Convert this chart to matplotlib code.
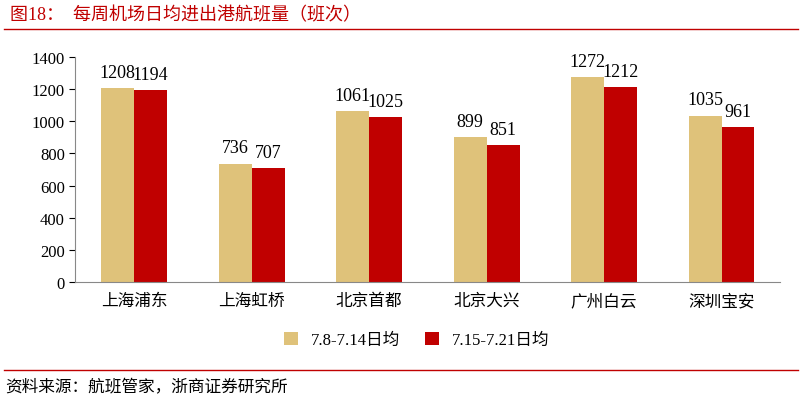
import matplotlib.pyplot as plt
import numpy as np

plt.rcParams['font.family'] = ['Liberation Serif', 'Noto Sans CJK SC']

airports = ["上海浦东", "上海虹桥", "北京首都", "北京大兴", "广州白云", "深圳宝安"]
week1 = [1208, 736, 1061, 899, 1272, 1035]
week2 = [1194, 707, 1025, 851, 1212, 961]
labels = ["7.8-7.14日均", "7.15-7.21日均"]

fig = plt.figure(figsize=(8.02, 4.02), dpi=100)
ax = fig.add_axes([0.094, 0.296, 0.879, 0.56])

x = np.arange(len(airports))
w = 0.28
b1 = ax.bar(x - w / 2, week1, w, color='#DFC27A', label=labels[0])
b2 = ax.bar(x + w / 2, week2, w, color='#C00000', label=labels[1])
for bars in (b1, b2):
    for r in bars:
        ax.text(r.get_x() + r.get_width() / 2, r.get_height() + 45, f"{int(r.get_height())}",
                ha='center', va='bottom', fontsize=13)

ax.set_ylim(0, 1400)
ax.set_yticks(range(0, 1401, 200))
ax.set_xlim(-0.5, 5.5)
ax.set_xticks(x)
ax.set_xticklabels(airports, fontsize=12)
ax.tick_params(axis='y', labelsize=12, direction='out', length=4)
ax.tick_params(axis='x', length=0, pad=8)
for s in ['top', 'right']:
    ax.spines[s].set_visible(False)
ax.spines['left'].set_color('#888888')
ax.spines['bottom'].set_color('#888888')

fig.legend(loc='center', bbox_to_anchor=(0.52, 0.152), ncol=2, frameon=False,
           fontsize=12, handlelength=0.8, handleheight=0.8, columnspacing=1.5)

fig.text(0.012, 0.962, "图18：  每周机场日均进出港航班量（班次）", color='#C00000',
         fontsize=13, va='center')
fig.add_artist(plt.Line2D([0.005, 0.995], [0.925, 0.925], color='#C00000', lw=1))
fig.add_artist(plt.Line2D([0.005, 0.995], [0.078, 0.078], color='#C00000', lw=1))
fig.text(0.006, 0.035, "资料来源：航班管家，浙商证券研究所", fontsize=12, va='center')

fig.savefig('out.png', dpi=100)
